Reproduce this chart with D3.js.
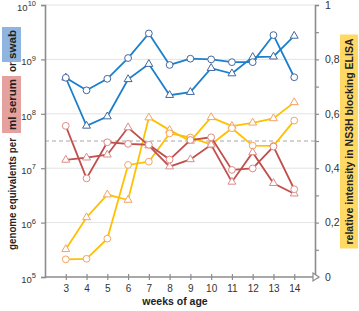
<!DOCTYPE html>
<html>
<head>
<meta charset="utf-8">
<script src="https://cdn.jsdelivr.net/npm/d3@7"></script>
<style>
  body { margin: 0; background: #fff; }
  svg text { font-family: "Liberation Sans", Arial, sans-serif; }
</style>
</head>
<body>
<div id="vis-container"></div>
<script>
const width = 359,
      height = 311,
      margin = {top: 5, bottom: 34, left: 45, right: 44};

// weeks of age
var weeks = [3, 4, 5, 6, 7, 8, 9, 10, 11, 12, 13, 14];

// genome equivalents (left, log axis)
var swabCircle = [4.6e8, 2.7e8, 4.4e8, 1.06e9, 3.0e9, 7.9e8, 1.03e9, 1.0e9, 8.9e8, 8.9e8, 2.8e9, 4.7e8];
var swabTriangle = [4.6e8, 6.0e7, 8.9e7, 4.3e8, 8.2e8, 2.2e8, 2.5e8, 6.9e8, 5.5e8, 1.1e9, 1.12e9, 2.7e9];
var serumCircle = [6.0e7, 6.5e6, 3.0e7, 2.8e7, 2.7e7, 1.44e7, 3.3e7, 3.7e7, 9.3e6, 9.9e6, 2.5e7, 4.1e6];
var serumTriangle = [1.42e7, 1.56e7, 1.77e7, 5.6e7, 2.6e7, 1.07e7, 1.45e7, 2.7e7, 5.6e6, 1.95e7, 5.3e6, 3.4e6];

// relative intensity NS3H ELISA (right axis)
var elisaCircle = [0.065, 0.067, 0.141, 0.412, 0.424, 0.528, 0.513, 0.487, 0.547, 0.483, 0.482, 0.575];
var elisaTriangle = [0.102, 0.219, 0.303, 0.283, 0.586, 0.540, 0.500, 0.587, 0.555, 0.567, 0.583, 0.642];

var leftTicks = [1e5, 1e6, 1e7, 1e8, 1e9, 1e10];
var rightTicks = [0, 0.2, 0.4, 0.6, 0.8, 1];
var cutoff = 0.5;

const axisGray = "#8c8c8c";

var svg = d3.select("#vis-container").append("svg")
    .attr("width", width)
    .attr("height", height);

// ******* Scales *******
var x = d3.scaleLinear().domain([2, 15]).range([margin.left, width - margin.right]);
var yL = d3.scaleLog().domain([1e5, 1e10]).range([height - margin.bottom, margin.top]);
var yR = d3.scaleLinear().domain([0, 1]).range([height - margin.bottom, margin.top]);

// gridlines
svg.append("g").selectAll("line")
    .data(leftTicks.slice(1))
    .enter().append("line")
    .attr("x1", x(2)).attr("x2", x(15))
    .attr("y1", d => yL(d)).attr("y2", d => yL(d))
    .attr("stroke", "#e3e3e3")
    .attr("stroke-width", 1);

// cutoff
svg.append("line")
    .attr("x1", x(2)).attr("x2", x(15))
    .attr("y1", yR(cutoff)).attr("y2", yR(cutoff))
    .attr("stroke", "#a6a6a6")
    .attr("stroke-dasharray", "4,3")
    .attr("stroke-width", 1);

// ******* Axes *******
var gLeft = svg.append("g")
    .attr("transform", `translate(${x(2)} 0)`)
    .call(d3.axisLeft(yL).tickValues(leftTicks).tickSize(4).tickPadding(5).tickFormat(""));
gLeft.selectAll(".tick text").each(function(d) {
    var t = d3.select(this);
    t.text("10").attr("font-size", 9.5).attr("fill", "#333").attr("dy", "0.55em");
    t.append("tspan").attr("dy", -4.5).attr("font-size", 7.5).text(Math.round(Math.log10(d)));
});

var gRight = svg.append("g")
    .attr("transform", `translate(${x(15)} 0)`)
    .call(d3.axisRight(yR).ticks(10).tickSize(4).tickPadding(6)
        .tickFormat(d => rightTicks.some(r => Math.abs(r - d) < 1e-6) ? d3.format(".1f")(d).replace(".", ",").replace(/^1,0$/, "1").replace(/^0,0$/, "0") : ""));
gRight.selectAll(".tick text").attr("font-size", 10.5).attr("fill", "#333");

var gBottom = svg.append("g")
    .attr("transform", `translate(0 ${yL(1e5)})`)
    .call(d3.axisBottom(x).tickValues(weeks).tickSize(3).tickPadding(5).tickFormat(d3.format("d")));
gBottom.selectAll(".tick line").attr("y1", -3);
gBottom.selectAll(".tick text").attr("font-size", 10).attr("fill", "#333");

[gLeft, gRight, gBottom].forEach(function(g) {
    g.select(".domain").attr("stroke", axisGray).attr("stroke-width", 1.6);
    g.selectAll(".tick line").attr("stroke", axisGray).attr("stroke-width", 1.2);
});
gBottom.select(".domain").attr("d", `M${x(2)},0H${x(15) + 1}`);

// arrow at end of x axis
svg.append("path")
    .attr("d", d3.line()([[x(15) - 2, yL(1e5) - 4], [x(15) + 4, yL(1e5)], [x(15) - 2, yL(1e5) + 4]]) + "Z")
    .attr("fill", "#fff")
    .attr("stroke", axisGray)
    .attr("stroke-width", 1.2);

// ******* Series *******
var series = [
    {vals: elisaTriangle, scale: yR, line: "#ffc000", mark: "#f2a463", shape: "tri"},
    {vals: elisaCircle, scale: yR, line: "#ffc000", mark: "#f2a463", shape: "circ"},
    {vals: serumTriangle, scale: yL, line: "#c0504d", mark: "#dc8c86", shape: "tri"},
    {vals: serumCircle, scale: yL, line: "#c0504d", mark: "#dc8c86", shape: "circ"},
    {vals: swabTriangle, scale: yL, line: "#1b7fcc", mark: "#44679f", shape: "tri"},
    {vals: swabCircle, scale: yL, line: "#1b7fcc", mark: "#44679f", shape: "circ"}
];

var triSymbol = d3.symbol().type(d3.symbolTriangle).size(27);

series.forEach(function(s) {
    var pts = weeks.map((w, i) => [x(w), s.scale(s.vals[i])]);
    svg.append("path")
        .attr("d", d3.line()(pts))
        .attr("fill", "none")
        .attr("stroke", s.line)
        .attr("stroke-width", 1.8);
    var marks = svg.append("g").selectAll("path")
        .data(pts)
        .enter();
    if (s.shape == "circ") {
        marks.append("circle")
            .attr("cx", d => d[0]).attr("cy", d => d[1])
            .attr("r", 3.4)
            .attr("fill", "#fff")
            .attr("stroke", s.mark)
            .attr("stroke-width", 1);
    } else {
        marks.append("path")
            .attr("d", triSymbol)
            .attr("transform", d => `translate(${d[0]} ${d[1]})`)
            .attr("fill", "#fff")
            .attr("stroke", s.mark)
            .attr("stroke-width", 1);
    }
});

// ******* Axis titles *******
svg.append("text")
    .attr("x", 175)
    .attr("y", 305)
    .attr("text-anchor", "middle")
    .attr("font-size", 10.5)
    .attr("font-weight", "bold")
    .attr("fill", "#222")
    .text("weeks of age");

// left title, pieces placed along the rotated baseline, some on coloured boxes
// start/len = text position in px from the bottom of the title
var leftParts = [
    {t: "genome equivalents per", start: 0, len: 112, box: null},
    {t: "ml serum", start: 120, len: 51, box: "#e5a19e"},
    {t: "or", start: 178, len: 10, box: null},
    {t: "swab", start: 191, len: 29, box: "#8fb4df"}
];
var gl = svg.append("g").attr("transform", "translate(15.5 250) rotate(-90)");
leftParts.forEach(function(p) {
    if (p.box) {
        gl.append("rect")
            .attr("x", p.start - 3).attr("y", -13.5)
            .attr("width", p.len + 6).attr("height", 19)
            .attr("fill", p.box);
    }
    gl.append("text")
        .attr("x", p.start)
        .attr("y", 0)
        .attr("font-size", 10.5)
        .attr("font-weight", "bold")
        .attr("fill", "#222")
        .attr("textLength", p.len)
        .attr("lengthAdjust", "spacingAndGlyphs")
        .text(p.t);
});

// right title on yellow box
var gr = svg.append("g").attr("transform", `translate(349 ${(35 + 248) / 2}) rotate(-90)`);
gr.append("rect")
    .attr("x", -107).attr("y", -9)
    .attr("width", 214).attr("height", 18)
    .attr("fill", "#ffd966");
gr.append("text")
    .attr("x", 0).attr("y", 4)
    .attr("text-anchor", "middle")
    .attr("font-size", 10.5)
    .attr("font-weight", "bold")
    .attr("fill", "#222")
    .text("relative intensity in NS3H blocking ELISA");
</script>
</body>
</html>
